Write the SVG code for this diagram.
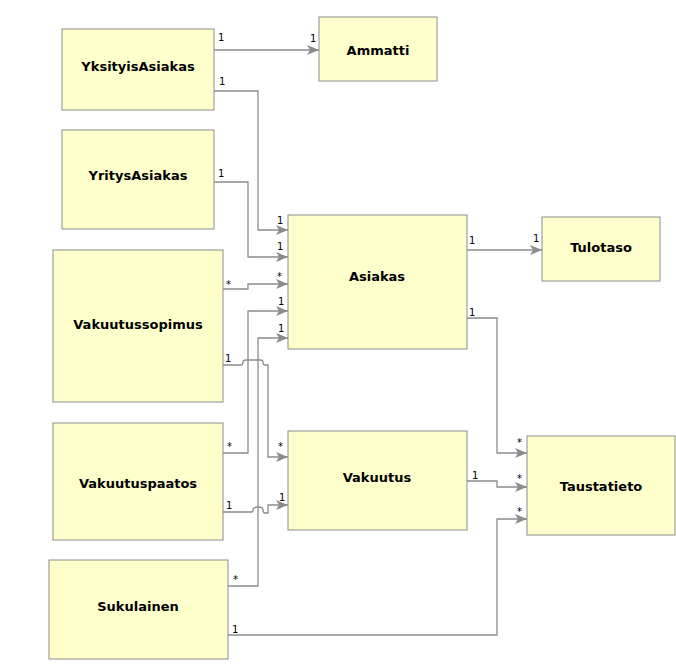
<svg xmlns="http://www.w3.org/2000/svg" width="676" height="664" viewBox="0 0 676 664">
<style>
.box{fill:#ffffcc;stroke:#8c8c8c;stroke-width:1}
.name{font-family:"DejaVu Sans",sans-serif;font-weight:bold;font-size:13px;fill:#000;text-anchor:middle;dominant-baseline:central}
.lbl{font-family:"DejaVu Sans",sans-serif;font-size:10px;fill:#000}
.c{fill:none;stroke:#8c8c8c;stroke-width:1.3}
</style>
<defs>
<marker id="arr" markerUnits="userSpaceOnUse" markerWidth="12" markerHeight="10" refX="12" refY="5" orient="auto">
<path d="M0,0 L12,5 L0,10 L3,5 z" fill="#8c8c8c"/>
</marker>
</defs>
<rect width="676" height="664" fill="#fff"/>
<g id="connectors">
<path class="c" marker-end="url(#arr)" d="M214,50 H319"/>
<path class="c" marker-end="url(#arr)" d="M214,91 H258 V230 H288"/>
<path class="c" marker-end="url(#arr)" d="M214,182 H248 V257 H288"/>
<path class="c" marker-end="url(#arr)" d="M223,289 H248 V284 H288"/>
<path class="c" marker-end="url(#arr)" d="M223,453 H248 V311 H288"/>
<path class="c" marker-end="url(#arr)" d="M228,586 H258 V338 H288"/>
<path class="c" marker-end="url(#arr)" d="M223,365 H241 Q243,365 243,362 Q243,360 246,360 H260 Q263,360 263,362 Q263,365 265,365 H268 V457 H288"/>
<path class="c" marker-end="url(#arr)" d="M223,512 H252 Q253,512 253,510 Q253,507 258,507 Q263,507 263,510 Q263,513 265,513 H268 V505 H288"/>
<path class="c" marker-end="url(#arr)" d="M467,250 H542"/>
<path class="c" marker-end="url(#arr)" d="M467,318 H497 V453 H527"/>
<path class="c" marker-end="url(#arr)" d="M467,481 H497 V487 H527"/>
<path class="c" marker-end="url(#arr)" d="M228,635 H497 V519 H527"/>
<text class="lbl" x="218" y="41">1</text>
<text class="lbl" x="310" y="42">1</text>
<text class="lbl" x="219" y="85">1</text>
<text class="lbl" x="277" y="224">1</text>
<text class="lbl" x="218" y="177">1</text>
<text class="lbl" x="277" y="250">1</text>
<text class="lbl" x="226" y="288">*</text>
<text class="lbl" x="277" y="280">*</text>
<text class="lbl" x="227" y="450">*</text>
<text class="lbl" x="278" y="305">1</text>
<text class="lbl" x="233" y="583">*</text>
<text class="lbl" x="278" y="332">1</text>
<text class="lbl" x="225" y="362">1</text>
<text class="lbl" x="278" y="450">*</text>
<text class="lbl" x="226" y="509">1</text>
<text class="lbl" x="279" y="501">1</text>
<text class="lbl" x="469" y="244">1</text>
<text class="lbl" x="533" y="242">1</text>
<text class="lbl" x="469" y="316">1</text>
<text class="lbl" x="517" y="446">*</text>
<text class="lbl" x="472" y="479">1</text>
<text class="lbl" x="517" y="482">*</text>
<text class="lbl" x="232" y="633">1</text>
<text class="lbl" x="517" y="515">*</text>
</g>
<g id="YksityisAsiakas"><rect class="box" x="62" y="29" width="152" height="81"/><text class="name" x="138" y="66">YksityisAsiakas</text></g>
<g id="Ammatti"><rect class="box" x="319" y="17" width="118" height="64"/><text class="name" x="378" y="50">Ammatti</text></g>
<g id="YritysAsiakas"><rect class="box" x="62" y="130" width="152" height="99"/><text class="name" x="138" y="175">YritysAsiakas</text></g>
<g id="Asiakas"><rect class="box" x="288" y="215" width="179" height="134"/><text class="name" x="377" y="276">Asiakas</text></g>
<g id="Tulotaso"><rect class="box" x="542" y="217" width="118" height="64"/><text class="name" x="601" y="247">Tulotaso</text></g>
<g id="Vakuutussopimus"><rect class="box" x="53" y="250" width="170" height="152"/><text class="name" x="138" y="324">Vakuutussopimus</text></g>
<g id="Vakuutuspaatos"><rect class="box" x="53" y="423" width="170" height="117"/><text class="name" x="138" y="483">Vakuutuspaatos</text></g>
<g id="Vakuutus"><rect class="box" x="288" y="431" width="179" height="99"/><text class="name" x="377" y="477">Vakuutus</text></g>
<g id="Taustatieto"><rect class="box" x="527" y="436" width="148" height="99"/><text class="name" x="601" y="486">Taustatieto</text></g>
<g id="Sukulainen"><rect class="box" x="49" y="560" width="179" height="99"/><text class="name" x="138" y="606">Sukulainen</text></g>
</svg>
